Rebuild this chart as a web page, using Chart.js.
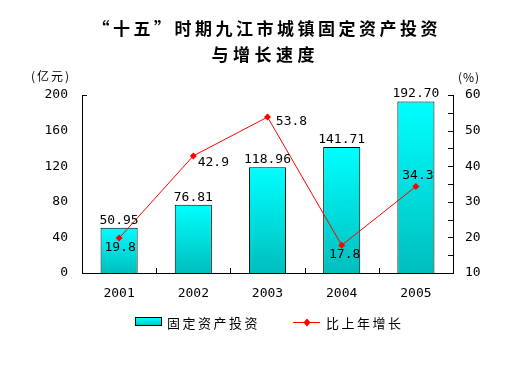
<!DOCTYPE html>
<html>
<head>
<meta charset="utf-8">
<script src="https://cdn.jsdelivr.net/npm/chart.js@4.4.1/dist/chart.umd.min.js"></script>
<style>
html,body{margin:0;padding:0;background:#fff;}
#wrap{width:522px;height:366px;position:relative;}
</style>
</head>
<body>
<div id="wrap"><canvas id="c" width="522" height="366"></canvas></div>
<script>
const titleLines = ['“十五”时期九江市城镇固定资产投资', '与增长速度'];
const categories = ['2001', '2002', '2003', '2004', '2005'];
const investment = [50.95, 76.81, 118.96, 141.71, 192.70];
const investmentLabels = ['50.95', '76.81', '118.96', '141.71', '192.70'];
const growth = [19.8, 42.9, 53.8, 17.8, 34.3];
const growthLabels = ['19.8', '42.9', '53.8', '17.8', '34.3'];
const seriesNames = ['固定资产投资', '比上年增长'];
const leftUnit = '(亿元)';
const rightUnit = '(%)';

const tickFont = {family: 'DejaVu Sans Mono', size: 13};
// label offsets for growth values (style)
const growthOffsets = [[1, 10], [20, 7], [24, 5], [3, 9], [2, -11]];

function barGradient(ctx) {
  const chart = ctx.chart;
  const area = chart.chartArea;
  if (!area || ctx.dataIndex === undefined) return '#00E0E0';
  const ys = chart.scales.y;
  const top = ys.getPixelForValue(investment[ctx.dataIndex]);
  const bottom = ys.getPixelForValue(0);
  const g = chart.ctx.createLinearGradient(0, top, 0, bottom);
  g.addColorStop(0, '#00FFFF');
  g.addColorStop(1, '#00BEBE');
  return g;
}

function spacedText(ctx, text, cx, y, spacing) {
  ctx.letterSpacing = spacing + 'px';
  const w = ctx.measureText(text).width - spacing;
  ctx.textAlign = 'left';
  ctx.fillText(text, cx - w / 2, y);
  ctx.letterSpacing = '0px';
}

const decor = {
  id: 'decor',
  afterDatasetsDraw(chart) {
    const ctx = chart.ctx;
    const area = chart.chartArea;
    const x = chart.scales.x, y = chart.scales.y, y1 = chart.scales.y1;
    ctx.save();
    ctx.strokeStyle = '#000';
    ctx.lineWidth = 1;
    // right axis inward ticks
    for (let v = 15; v <= 60; v += 5) {
      const py = Math.round(y1.getPixelForValue(v)) + 0.5;
      ctx.beginPath();
      ctx.moveTo(area.right - 5, py);
      ctx.lineTo(area.right, py);
      ctx.stroke();
    }
    // left top tick
    const ty = Math.round(y.getPixelForValue(200)) + 0.5;
    ctx.beginPath();
    ctx.moveTo(area.left, ty);
    ctx.lineTo(area.left + 5, ty);
    ctx.stroke();
    // x category boundary ticks (upward)
    for (let i = 1; i < categories.length; i++) {
      const px = Math.round((x.getPixelForValue(i - 1) + x.getPixelForValue(i)) / 2) + 0.5;
      ctx.beginPath();
      ctx.moveTo(px, area.bottom);
      ctx.lineTo(px, area.bottom - 5);
      ctx.stroke();
    }
    // bar value labels
    ctx.fillStyle = '#000';
    ctx.font = '13px "DejaVu Sans Mono"';
    ctx.textAlign = 'center';
    ctx.textBaseline = 'alphabetic';
    const barMeta = chart.getDatasetMeta(0);
    barMeta.data.forEach((el, i) => {
      ctx.fillText(investmentLabels[i], el.x, el.y - 4);
    });
    // growth labels
    ctx.textBaseline = 'middle';
    const lineMeta = chart.getDatasetMeta(1);
    lineMeta.data.forEach((el, i) => {
      const o = growthOffsets[i];
      ctx.fillText(growthLabels[i], el.x + o[0], el.y + o[1]);
    });
    ctx.restore();
  },
  afterDraw(chart) {
    const ctx = chart.ctx;
    ctx.save();
    ctx.fillStyle = '#000';
    // title
    ctx.font = 'bold 17px "Noto Sans CJK SC"';
    ctx.textBaseline = 'middle';
    spacedText(ctx, titleLines[0], 265, 29, 3.5);
    spacedText(ctx, titleLines[1], 263, 55, 4.5);
    // unit labels
    ctx.font = '12px "Noto Sans CJK SC"';
    ctx.textAlign = 'left';
    ctx.letterSpacing = '2px';
    ctx.fillText(leftUnit, 31, 76);
    ctx.letterSpacing = '1px';
    ctx.fillText(rightUnit, 458, 77);
    ctx.letterSpacing = '0px';
    // legend
    const ly = 322;
    const g = ctx.createLinearGradient(0, ly - 4, 0, ly + 4);
    g.addColorStop(0, '#00FFFF');
    g.addColorStop(1, '#00BEBE');
    ctx.fillStyle = g;
    ctx.fillRect(135.5, ly - 4.5, 26, 8);
    ctx.strokeStyle = '#000';
    ctx.lineWidth = 1;
    ctx.strokeRect(135.5, ly - 4.5, 26, 8);
    ctx.fillStyle = '#000';
    ctx.font = '13px "Noto Sans CJK SC"';
    ctx.textBaseline = 'middle';
    ctx.letterSpacing = '2.5px';
    ctx.fillText(seriesNames[0], 167, ly + 1);
    ctx.strokeStyle = '#FF0000';
    ctx.beginPath();
    ctx.moveTo(293, ly + 0.5);
    ctx.lineTo(320, ly + 0.5);
    ctx.stroke();
    ctx.fillStyle = '#FF0000';
    ctx.beginPath();
    ctx.moveTo(307, ly - 3.5);
    ctx.lineTo(310.5, ly + 0.5);
    ctx.lineTo(307, ly + 4.5);
    ctx.lineTo(303.5, ly + 0.5);
    ctx.closePath();
    ctx.fill();
    ctx.fillStyle = '#000';
    ctx.fillText(seriesNames[1], 326, ly + 1);
    ctx.letterSpacing = '0px';
    ctx.restore();
  }
};

new Chart(document.getElementById('c'), {
  data: {
    labels: categories,
    datasets: [
      {
        type: 'bar',
        label: seriesNames[0],
        data: investment,
        yAxisID: 'y',
        backgroundColor: barGradient,
        borderColor: '#000',
        borderWidth: 1,
        borderSkipped: 'bottom',
        barPercentage: 0.5,
        categoryPercentage: 1,
        order: 2
      },
      {
        type: 'line',
        label: seriesNames[1],
        data: growth,
        yAxisID: 'y1',
        borderColor: '#FF0000',
        borderWidth: 1,
        backgroundColor: '#FF0000',
        pointStyle: 'rectRot',
        pointRadius: 3.5,
        pointBorderWidth: 0,
        tension: 0,
        order: 1
      }
    ]
  },
  options: {
    responsive: false,
    animation: false,
    devicePixelRatio: 1,
    layout: {padding: {top: 95, bottom: 63, left: 0, right: 0}},
    plugins: {
      legend: {display: false},
      title: {display: false},
      tooltip: {enabled: false}
    },
    scales: {
      x: {
        type: 'category',
        offset: true,
        grid: {display: false, drawTicks: false},
        border: {display: true, color: '#000', width: 1},
        ticks: {font: tickFont, color: '#000', padding: 13, maxRotation: 0},
        afterFit(s) { s.height = 30; }
      },
      y: {
        position: 'left',
        min: 0, max: 200,
        grid: {display: false, drawTicks: false},
        border: {display: true, color: '#000', width: 1},
        ticks: {stepSize: 40, font: tickFont, color: '#000', padding: 14},
        afterFit(s) { s.width = 82; }
      },
      y1: {
        position: 'right',
        min: 10, max: 60,
        grid: {display: false, drawTicks: false},
        border: {display: true, color: '#000', width: 1},
        ticks: {stepSize: 5, font: tickFont, color: '#000', padding: 12},
        afterFit(s) { s.width = 69; }
      }
    }
  },
  plugins: [decor]
});
</script>
</body>
</html>
